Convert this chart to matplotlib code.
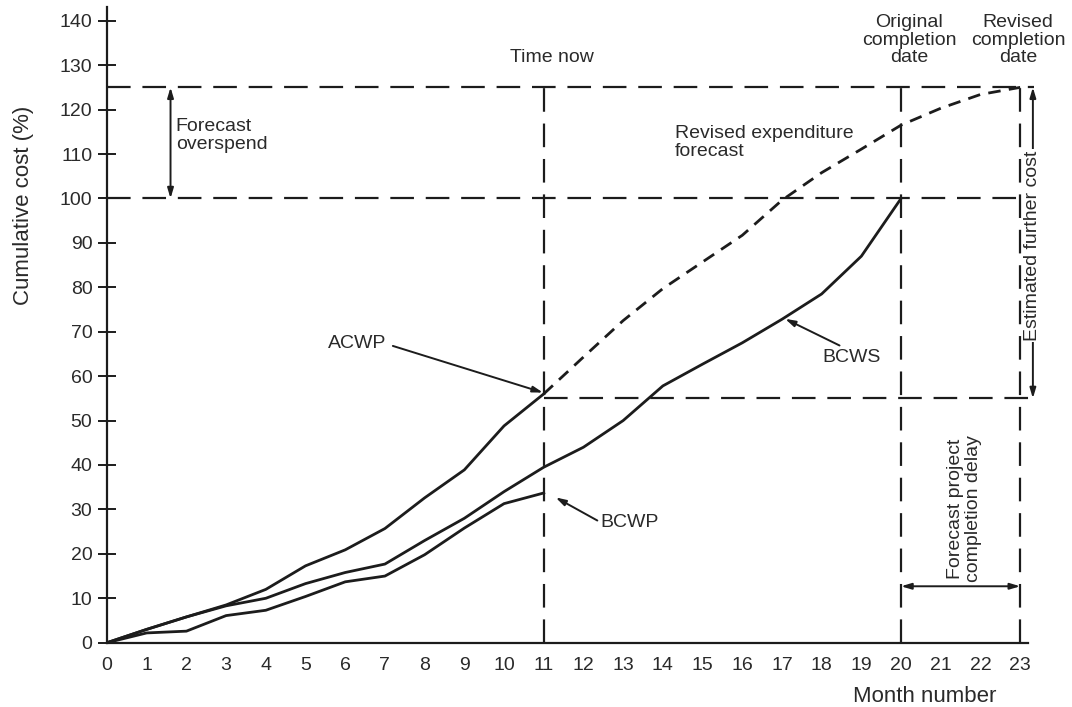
import matplotlib
matplotlib.use("Agg")
import matplotlib.pyplot as plt
import numpy as np

plt.rcParams["font.family"] = ["Liberation Sans", "DejaVu Sans"]
plt.rcParams["lines.scale_dashes"] = False

# ── data ──────────────────────────────────────────────────────────────────
months_to_now = list(range(0, 12))          # 0 .. 11 (time now)
acwp = [0, 3, 5.8, 8.5, 12, 17.3, 20.9, 25.7, 32.6, 38.9, 48.8, 56]
bcwp = [0, 2.2, 2.6, 6.1, 7.3, 10.4, 13.7, 15.0, 19.8, 25.8, 31.3, 33.7]

months_plan = list(range(0, 21))            # 0 .. 20 (original completion)
bcws = [0, 3, 5.8, 8.3, 10, 13.3, 15.8, 17.7, 23, 28, 34, 39.5,
        44, 50, 57.8, 62.7, 67.5, 72.8, 78.5, 87, 100]

months_fcst = list(range(11, 24))           # 11 .. 23 (revised completion)
forecast = [56, 64.3, 72.5, 79.7, 85.7, 91.7, 99.6, 105.8, 111.1,
            116.5, 120.3, 123.4, 125]

time_now = 11
orig_end = 20
rev_end = 23
budget = 100
final_cost = 125
cost_now = 55

x_ticks = list(range(0, 24))
y_ticks = list(range(0, 141, 10))

INK = "#1c1c1c"
TXT = "#2a2a2a"
LONG_DASH = (0, (17, 8.5))
SHORT_DASH = (0, (9, 6))

fig = plt.figure(figsize=(10.72, 7.07), dpi=100)
ax = fig.add_axes([107 / 1072, 64.3 / 707, 937 / 1072, 635.3 / 707])
ax.set_xlim(0, 23.6)
ax.set_ylim(0, 143)

# ── curves ────────────────────────────────────────────────────────────────
ax.plot(months_to_now, acwp, color=INK, lw=2.0, solid_joinstyle="round")
ax.plot(months_to_now, bcwp, color=INK, lw=2.0, solid_joinstyle="round")
ax.plot(months_plan, bcws, color=INK, lw=2.0, solid_joinstyle="round")
ax.plot(months_fcst, forecast, color=INK, lw=2.0, linestyle=SHORT_DASH)

# ── reference lines ───────────────────────────────────────────────────────
ref = dict(color=INK, lw=1.6, linestyle=LONG_DASH)
ax.plot([0, 23.35], [final_cost, final_cost], **ref)
ax.plot([0, 23.1], [budget, budget], **ref)
ax.plot([time_now, 23.3], [cost_now, cost_now], **ref)
for xv in (time_now, orig_end, rev_end):
    ax.plot([xv, xv], [0, final_cost], **ref)

# ── axes styling ──────────────────────────────────────────────────────────
for side in ("top", "right"):
    ax.spines[side].set_visible(False)
for side in ("left", "bottom"):
    ax.spines[side].set_linewidth(1.6)
    ax.spines[side].set_color(INK)
ax.spines["bottom"].set_bounds(0, 23.2)

ax.set_xticks(x_ticks)
ax.set_yticks(y_ticks)
ax.tick_params(axis="x", length=0, pad=10, labelsize=14, labelcolor=TXT)
ax.tick_params(axis="y", direction="inout", length=13, width=1.4,
               color=INK, pad=4, labelsize=14, labelcolor=TXT)

ax.text(20.6, -12, "Month number", ha="center", va="center",
        fontsize=16, color=TXT, clip_on=False)
fig.text(24 / 1072, 1 - 205 / 707, "Cumulative cost (%)", rotation=90,
         ha="center", va="center", fontsize=16, color=TXT)

# ── annotations ───────────────────────────────────────────────────────────
one_way = dict(arrowstyle="-|>,head_length=0.6,head_width=0.18",
               color=INK, lw=1.4, shrinkA=0, shrinkB=0)
two_way = dict(arrowstyle="<|-|>,head_length=0.6,head_width=0.18",
               color=INK, lw=1.4, shrinkA=0, shrinkB=0)

ax.annotate("", xy=(10.98, 56.3), xytext=(7.2, 66.8), arrowprops=one_way)
ax.text(6.3, 67.3, "ACWP", ha="center", va="center", fontsize=14, color=TXT)

ax.annotate("", xy=(11.3, 32.7), xytext=(12.35, 27.5), arrowprops=one_way)
ax.text(13.15, 27.0, "BCWP", ha="center", va="center", fontsize=14, color=TXT)

ax.annotate("", xy=(17.08, 72.9), xytext=(18.45, 66.9), arrowprops=one_way)
ax.text(18.75, 64.2, "BCWS", ha="center", va="center", fontsize=14, color=TXT)

ax.text(11.2, 131.7, "Time now", ha="center", va="center",
        fontsize=14, color=TXT)
ax.text(20.2, 135.6, "Original\ncompletion\ndate", ha="center", va="center",
        fontsize=14, color=TXT, linespacing=1.05, clip_on=False)
ax.text(22.95, 135.6, "Revised\ncompletion\ndate", ha="center", va="center",
        fontsize=14, color=TXT, linespacing=1.05, clip_on=False)
ax.text(14.3, 116.5, "Revised expenditure\nforecast", ha="left", va="top",
        fontsize=14, color=TXT, linespacing=1.05)

# forecast overspend
ax.annotate("", xy=(1.6, final_cost), xytext=(1.6, budget), arrowprops=two_way)
ax.text(1.73, 118.0, "Forecast\noverspend", ha="left", va="top",
        fontsize=14, color=TXT, linespacing=1.05)

# estimated further cost
ax.annotate("", xy=(23.32, final_cost), xytext=(23.32, cost_now),
            arrowprops=two_way, annotation_clip=False)
ax.text(23.32, 89.4, "Estimated further cost", rotation=90, ha="center",
        va="center", fontsize=14, color=TXT, clip_on=False,
        bbox=dict(facecolor="white", edgecolor="none", pad=1.0))

# forecast completion delay
ax.annotate("", xy=(orig_end, 12.7), xytext=(rev_end, 12.7), arrowprops=two_way)
ax.text(21.6, 13.6, "Forecast project\ncompletion delay", rotation=90,
        ha="center", va="bottom", multialignment="center",
        fontsize=14, color=TXT, linespacing=1.05)

fig.savefig("out.png", dpi=100)
